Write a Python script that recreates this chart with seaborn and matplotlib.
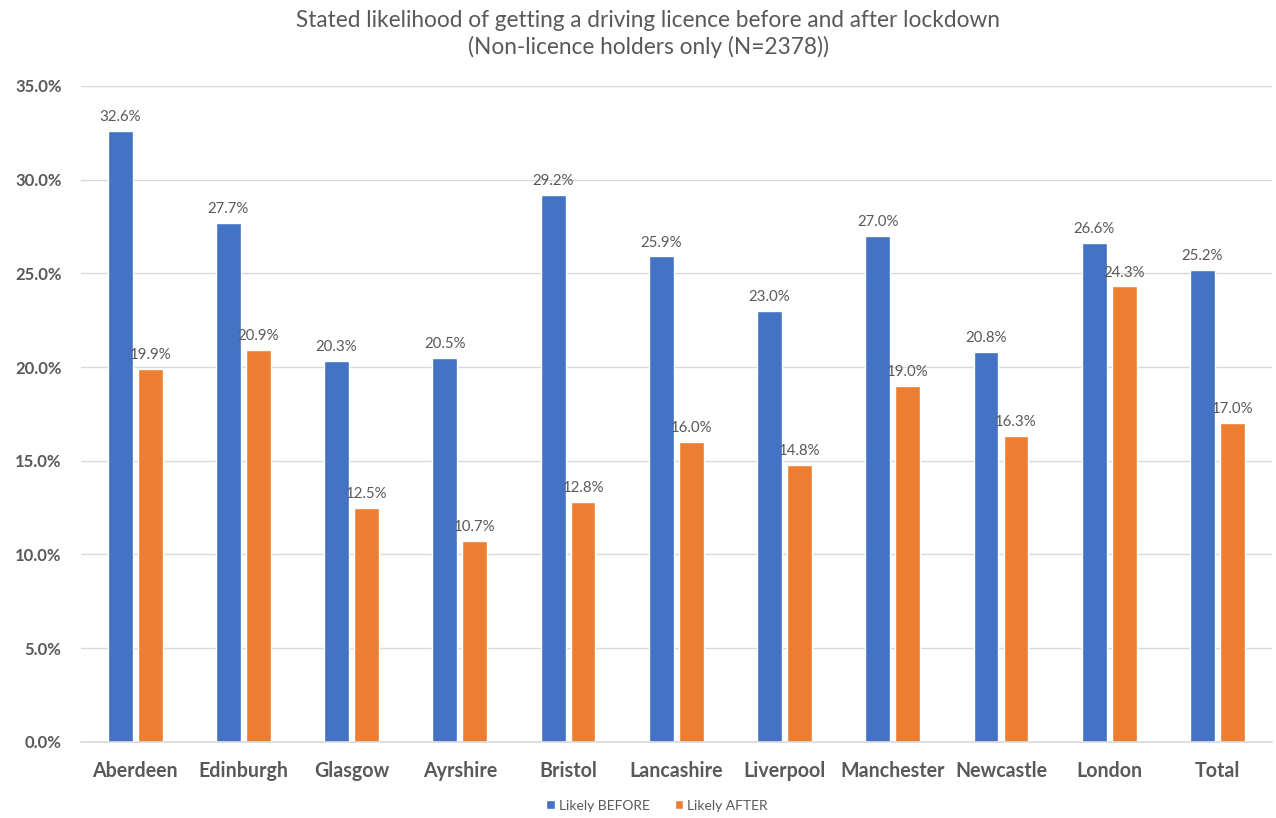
import matplotlib
matplotlib.use("Agg")
import matplotlib.pyplot as plt
import seaborn as sns
import pandas as pd
from matplotlib.ticker import PercentFormatter
from matplotlib.patches import Patch

# Survey data: stated likelihood (%) of getting a driving licence
areas = ["Aberdeen", "Edinburgh", "Glasgow", "Ayrshire", "Bristol", "Lancashire",
         "Liverpool", "Manchester", "Newcastle", "London", "Total"]
likely_before = [32.6, 27.7, 20.3, 20.5, 29.2, 25.9, 23.0, 27.0, 20.8, 26.6, 25.2]
likely_after = [19.9, 20.9, 12.5, 10.7, 12.8, 16.0, 14.8, 19.0, 16.3, 24.3, 17.0]
series_names = ["Likely BEFORE", "Likely AFTER"]

BLUE = "#4472C4"
ORANGE = "#ED7D31"
TEXT = "#595959"
GRID = "#D9D9D9"

df = pd.DataFrame({
    "area": areas * 2,
    "value": likely_before + likely_after,
    "series": [series_names[0]] * len(areas) + [series_names[1]] * len(areas),
})

sns.set_theme(style="white")
plt.rcParams["font.family"] = ["Lato", "DejaVu Sans"]

fig = plt.figure(figsize=(12.76, 8.18), dpi=100)
ax = fig.add_axes([0.0635, 0.093, 0.933, 0.802])

sns.barplot(data=df, x="area", y="value", hue="series", order=areas,
            hue_order=series_names, palette=[BLUE, ORANGE], width=0.554,
            gap=0.17, saturation=1, legend=False, ax=ax, errorbar=None)

for cont in ax.containers:
    ax.bar_label(cont, fmt="%.1f%%", padding=5, fontsize=10.8, color=TEXT)

ax.set_ylim(0, 35)
ax.set_xlim(-0.5, len(areas) - 0.5)
ax.set_yticks([0, 5, 10, 15, 20, 25, 30, 35])
ax.yaxis.set_major_formatter(PercentFormatter(decimals=1))
ax.grid(axis="y", color=GRID, linewidth=1)
ax.set_axisbelow(True)
for s in ["top", "right", "left"]:
    ax.spines[s].set_visible(False)
ax.spines["bottom"].set_color(GRID)
ax.spines["bottom"].set_linewidth(1.2)
ax.set_xlabel("")
ax.set_ylabel("")
ax.tick_params(axis="y", length=0, pad=14, labelsize=12, labelcolor=TEXT)
ax.tick_params(axis="x", length=0, pad=14, labelsize=14.1, labelcolor=TEXT)
for lbl in ax.get_xticklabels() + ax.get_yticklabels():
    lbl.set_fontweight("bold")

fig.suptitle("Stated likelihood of getting a driving licence before and after lockdown\n"
             "(Non-licence holders only (N=2378))",
             x=0.508, y=0.988, fontsize=16.3, color=TEXT, linespacing=1.3)

handles = [Patch(facecolor=BLUE, label=series_names[0]),
           Patch(facecolor=ORANGE, label=series_names[1])]
fig.legend(handles=handles, loc="center", bbox_to_anchor=(0.515, 0.015), ncol=2,
           frameon=False, fontsize=10, labelcolor=TEXT, handlelength=0.6,
           handleheight=0.6, handletextpad=0.3, columnspacing=1.8)

fig.savefig("out.png", dpi=100)
